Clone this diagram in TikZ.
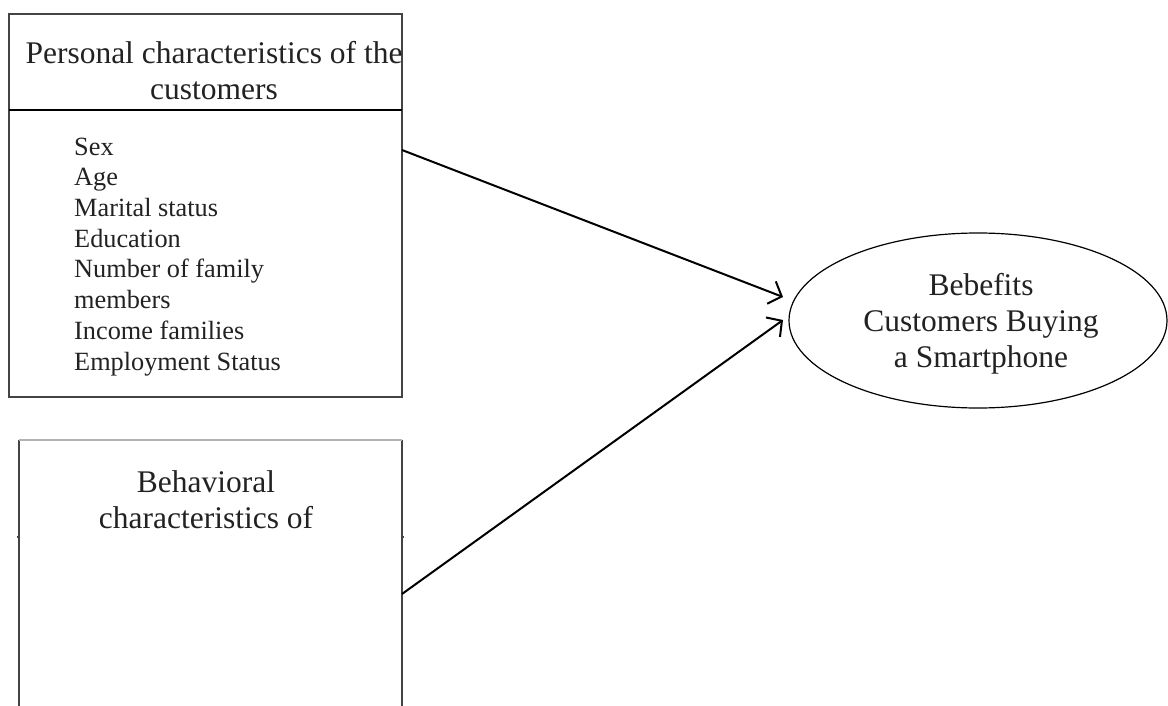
\documentclass[tikz,border=0pt]{standalone}
\usepackage{fontspec}
\setmainfont{Liberation Serif}
\usetikzlibrary{shapes.geometric,arrows.meta}
\definecolor{txt}{HTML}{222222}
\definecolor{frame}{HTML}{444444}
\tikzset{
  frameline/.style={draw=frame, line width=1.3pt},
  bigtext/.style={text=txt, font=\fontsize{31.5}{36}\selectfont, align=center, inner sep=0pt},
  listtext/.style={text=txt, font=\fontsize{26.3}{30.7}\selectfont, align=left, inner sep=0pt},
  conn/.style={draw=black, line width=2pt, -{Straight Barb[length=11pt,width=24pt,line width=2pt]}}
}
\begin{document}
\begin{tikzpicture}[x=1pt,y=-1pt]
\useasboundingbox (0,0) rectangle (1168,706);
\clip (0,0) rectangle (1168,706);
% personal characteristics box
\node[frameline, rectangle, minimum width=393pt, minimum height=383pt, inner sep=0pt] (pbox) at (205.5,205.5) {};
\coordinate (divL) at (9,110);
\coordinate (divR) at (402,110);
\draw[draw=black, line width=1.6pt] (divL) -- (divR);
\node[bigtext, anchor=base] (ptitle) at (214,100) {Personal characteristics of the\\customers};
\node[listtext, anchor=base west] (plist) at (74,370) {Sex\\Age\\Marital status\\Education\\Number of family\\members\\Income families\\Employment Status};
% behavioral characteristics box (cut at the bottom)
\coordinate (bBL) at (19,712);
\coordinate (bTL) at (19,440);
\coordinate (bTR) at (402,440);
\coordinate (bBR) at (402,712);
\draw[frameline] (bBL) -- (bTL);
\draw[frameline] (bTR) -- (bBR);
\draw[draw=black!30, line width=1.3pt] (bTL) -- (bTR);
\coordinate (tkL) at (19,537);
\coordinate (tkR) at (402,537);
\draw[frameline] (tkL) -- ++(-2,0);
\draw[frameline] (tkR) -- ++(2,0);
\node[bigtext, anchor=base] (btitle) at (206,528) {Behavioral\\characteristics of};
% outcome ellipse
\node[ellipse, draw=black, line width=1.2pt, minimum width=378pt, minimum height=175pt, inner sep=0pt] (ell) at (978,320.5) {};
\node[bigtext, anchor=base] (etitle) at (981,367) {Bebefits\\Customers Buying\\a Smartphone};
% connectors
\coordinate (s1) at (402,150);
\coordinate (e1) at (783,297);
\coordinate (s2) at (402,594);
\coordinate (e2) at (783,320);
\draw[conn] (s1) -- (e1);
\draw[conn] (s2) -- (e2);
\end{tikzpicture}
\end{document}
